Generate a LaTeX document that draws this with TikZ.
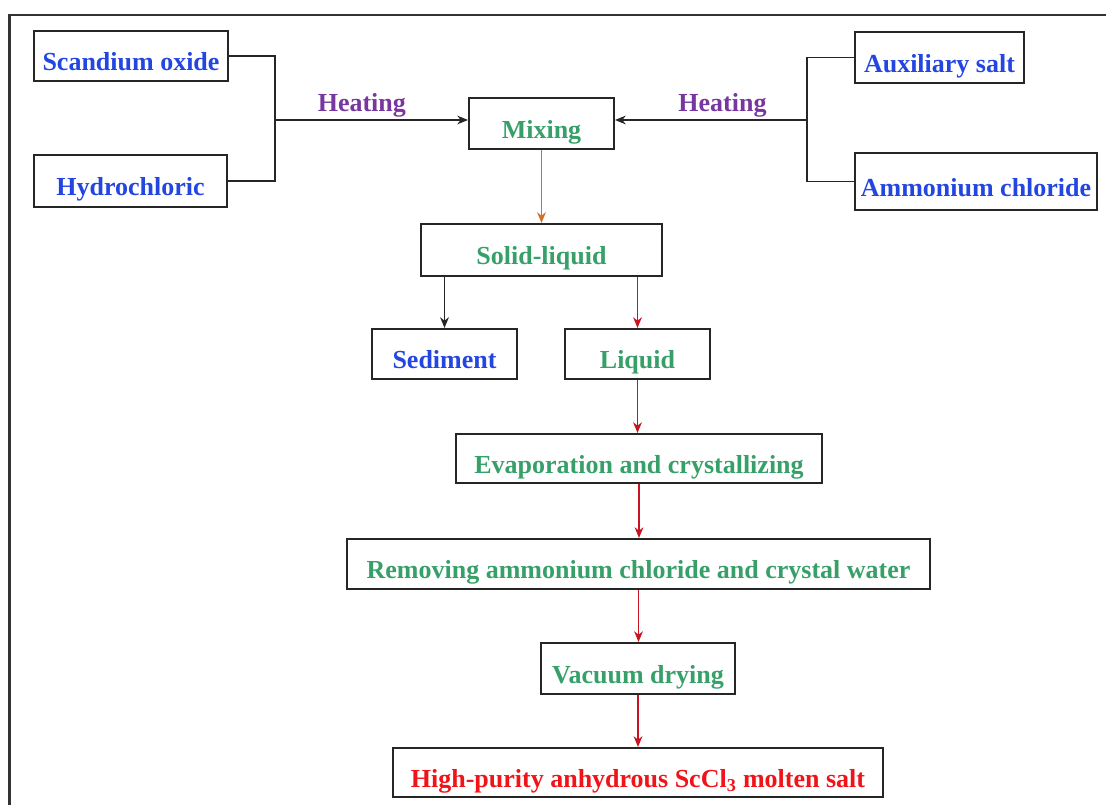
\documentclass[tikz,border=0pt]{standalone}
\usepackage{fontspec}
\setmainfont{Liberation Serif}
\usetikzlibrary{arrows.meta}
\definecolor{cblue}{RGB}{35,70,225}
\definecolor{cgreen}{RGB}{55,160,105}
\definecolor{cpurple}{RGB}{120,55,160}
\definecolor{cred}{RGB}{240,20,25}
\definecolor{cdarkred}{RGB}{200,20,30}
\definecolor{corange}{RGB}{215,110,40}
\tikzset{flow/.style={x=0.75pt,y=-0.75pt,font=\bfseries\fontsize{19.5}{22}\selectfont},
  procbox/.style 2 args={draw=black!85,line width=1.5pt,inner sep=0pt,text height=22pt,text depth=0pt,
    minimum width=#1*0.75pt,minimum height=#2*0.75pt},
  wire/.style={line width=1.4pt,black!85},
  link/.style={wire,-{Stealth[length=8pt,width=6.5pt,inset=2.5pt]}},
  heat/.style={above,text=cpurple,inner sep=1pt}}

\begin{document}
\begin{tikzpicture}[flow]
    \useasboundingbox (0,0) rectangle (1106,805);
    \draw[line width=1.6pt,black!80] (9.5,805) -- (9.5,15) -- (1106,15);% frame, cut at right and bottom
    % inputs
    \node[procbox={194}{50},text=cblue] (sco) at (131,56) {Scandium oxide};
    \node[procbox={193}{52},text=cblue] (hcl) at (130.5,181) {Hydrochloric};
    \node[procbox={169}{51},text=cblue] (aux) at (939.5,57.5) {Auxiliary salt};
    \node[procbox={242}{57},text=cblue] (nhcl) at (976,181.5) {Ammonium chloride};
    % process chain
    \node[procbox={145}{51},text=cgreen] (mix) at (541.5,123.5) {Mixing};
    \node[procbox={241}{52},text=cgreen] (sol) at (541.5,250) {Solid-liquid};
    \node[procbox={145}{50},text=cblue] (sed) at (444.5,354) {Sediment};
    \node[procbox={145}{50},text=cgreen] (liq) at (637.5,354) {Liquid};
    \node[procbox={366}{49},text=cgreen] (evap) at (639,458.5) {Evaporation and crystallizing};
    \node[procbox={583}{50},text=cgreen] (rem) at (638.5,564) {Removing ammonium chloride and crystal water};
    \node[procbox={194}{51},text=cgreen] (vac) at (638,668.5) {Vacuum drying};
    \node[procbox={490}{49},text=cred] (hp) at (638,772.5) {High-purity anhydrous ScCl\textsubscript{3} molten salt};
    % connectors
    \coordinate (jl) at (275,120);
    \coordinate (jr) at (807,120);
    \draw[wire] (sco.east) -| (jl) |- (hcl.east);
    \draw[wire] (aux.west) -| (jr) |- (nhcl.west);
    \draw[link] (jl) -- node[heat,pos=0.45] {Heating} (jl -| mix.west);
    \draw[link] (jr) -- node[heat,pos=0.44] {Heating} (jr -| mix.east);
    \draw[link,draw=corange] (mix) -- (sol);
    \draw[link] (sed.north |- sol.south) -- (sed.north);
    \draw[link,draw=cdarkred] (liq.north |- sol.south) -- (liq.north);
    \foreach \a/\b in {liq/evap,evap/rem,rem/vac,vac/hp}
      \draw[link,draw=cdarkred] (\a.south) -- (\a.south |- \b.north);
\end{tikzpicture}
\end{document}
